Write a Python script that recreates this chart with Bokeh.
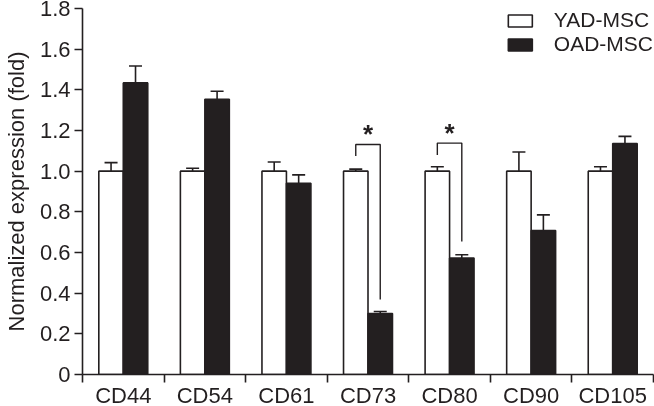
from bokeh.plotting import figure
from bokeh.models import (ColumnDataSource, Range1d, FixedTicker, Whisker, TeeHead,
                          Legend, LegendItem)
from bokeh.core.properties import value
from bokeh.embed import file_html
from bokeh.resources import INLINE

categories = ["CD44", "CD54", "CD61", "CD73", "CD80", "CD90", "CD105"]
yad = [1.0, 1.0, 1.0, 1.0, 1.0, 1.0, 1.0]
yad_err = [0.042, 0.014, 0.045, 0.010, 0.022, 0.094, 0.022]
oad = [1.434, 1.354, 0.940, 0.300, 0.573, 0.708, 1.136]
oad_err = [0.083, 0.039, 0.042, 0.010, 0.016, 0.077, 0.035]
y_ticks = [0, 0.2, 0.4, 0.6, 0.8, 1.0, 1.2, 1.4, 1.6, 1.8]
y_tick_labels = ["0", "0.2", "0.4", "0.6", "0.8", "1.0", "1.2", "1.4", "1.6", "1.8"]
# significance brackets: category index, bracket top, left leg bottom, right leg bottom
sig_idx = [3, 4]
sig_top = [1.131, 1.138]
sig_left = [1.074, 1.079]
sig_right = [0.369, 0.654]

INK = "#231f20"
FONT = "Liberation Sans"
BW = 0.3

n = len(categories)
centers = [i + 0.5 for i in range(n)]
x_yad = [c - BW / 2 for c in centers]
x_oad = [c + BW / 2 for c in centers]

src_yad = ColumnDataSource(dict(x=x_yad, top=yad, up=[v + e for v, e in zip(yad, yad_err)]))
src_oad = ColumnDataSource(dict(x=x_oad, top=oad, up=[v + e for v, e in zip(oad, oad_err)]))

p = figure(width=654, height=424, x_range=Range1d(0, n), y_range=Range1d(0, 1.8),
           output_backend="svg", toolbar_location=None,
           min_border_left=81, min_border_right=1, min_border_top=8, min_border_bottom=50)
p.styles = {"position": "fixed", "top": "0px", "left": "0px"}
p.outline_line_color = None
p.grid.visible = False
p.background_fill_color = "white"

r_yad = p.vbar(x="x", top="top", width=BW, bottom=0, source=src_yad,
               fill_color="white", line_color=INK, line_width=1.6)
r_oad = p.vbar(x="x", top="top", width=BW, bottom=0, source=src_oad,
               fill_color=INK, line_color=INK, line_width=1.6)

for src in (src_yad, src_oad):
    w = Whisker(source=src, base="x", lower="top", upper="up",
                line_color=INK, line_width=1.6, lower_head=None,
                upper_head=TeeHead(size=13, line_color=INK, line_width=1.6))
    p.add_layout(w)

# significance brackets
bx, by = [], []
for i, t, l, r in zip(sig_idx, sig_top, sig_left, sig_right):
    bx.append([x_yad[i], x_yad[i], x_oad[i], x_oad[i]])
    by.append([l, t, t, r])
p.multi_line(bx, by, line_color=INK, line_width=1.4)
p.text(x=[centers[i] for i in sig_idx], y=[t + 0.05 for t in sig_top], text=["*", "*"],
       text_font=value(FONT), text_font_size="26px", text_font_style="bold", text_color=INK,
       text_align="center", text_baseline="middle")

# axes
xa = p.xaxis[0]
xa.ticker = FixedTicker(ticks=centers, minor_ticks=list(range(n + 1)))
xa.major_label_overrides = {c: lab for c, lab in zip(centers, categories)}
xa.major_tick_out = 0
xa.major_tick_in = 0
xa.minor_tick_out = 8
xa.minor_tick_in = 0
xa.minor_tick_line_color = INK
xa.minor_tick_line_width = 1.6
xa.axis_line_color = INK
xa.axis_line_width = 1.6
xa.major_label_text_font = FONT
xa.major_label_text_font_size = "22px"
xa.major_label_text_line_height = 1.0
xa.major_label_text_color = INK
xa.major_label_standoff = 0

ya = p.yaxis[0]
ya.ticker = FixedTicker(ticks=y_ticks)
ya.major_label_overrides = {t: lab for t, lab in zip(y_ticks, y_tick_labels)}
ya.major_tick_out = 8
ya.major_tick_in = 0
ya.minor_tick_out = 0
ya.minor_tick_in = 0
ya.major_tick_line_color = INK
ya.major_tick_line_width = 1.6
ya.axis_line_color = INK
ya.axis_line_width = 1.6
ya.major_label_text_font = FONT
ya.major_label_text_font_size = "22px"
ya.major_label_text_color = INK
ya.major_label_standoff = 4
ya.axis_label = "Normalized expression (fold)"
ya.axis_label_text_font = FONT
ya.axis_label_text_font_size = "22px"
ya.axis_label_text_font_style = "normal"
ya.axis_label_text_color = INK
ya.axis_label_standoff = 8

legend = Legend(items=[LegendItem(label="YAD-MSC", renderers=[r_yad]),
                       LegendItem(label="OAD-MSC", renderers=[r_oad])],
                location="top_right", border_line_color=None, background_fill_alpha=0,
                label_text_font=FONT, label_text_font_size="21px", label_text_color=INK,
                glyph_width=30, glyph_height=15, label_standoff=19, spacing=0,
                padding=0, margin=0, label_height=23)
p.add_layout(legend)

open("out.html", "w").write(file_html(p, INLINE))
